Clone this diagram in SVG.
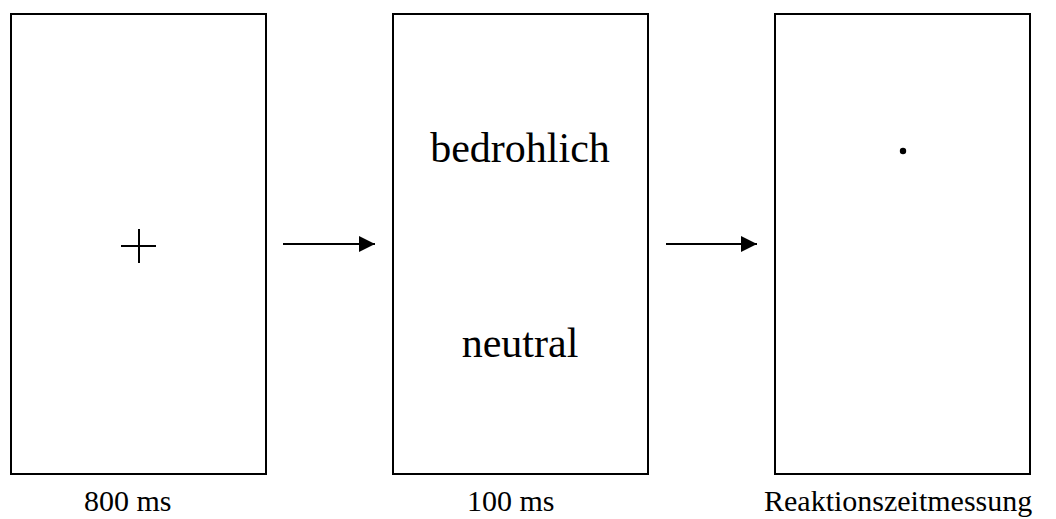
<svg xmlns="http://www.w3.org/2000/svg" width="1056" height="519" viewBox="0 0 1056 519">
<style>
.box{fill:#fff;stroke:#000;stroke-width:2}
.t{font-family:"Liberation Serif","Times New Roman",serif;fill:#000}
.big{font-size:42px}
.lab{font-size:30px}
.ln{stroke:#000;stroke-width:2;fill:none}
</style>
<defs>
<marker id="ah" viewBox="0 0 16 16" refX="16" refY="8" markerWidth="16" markerHeight="16" markerUnits="userSpaceOnUse" orient="auto">
<path d="M0,0 L16,8 L0,16 Z" fill="#000"/>
</marker>
</defs>
<rect width="1056" height="519" fill="#fff"/>
<g id="node-fixation">
<rect class="box" x="11" y="14" width="255" height="460"/>
<path class="ln" d="M121,246 H156 M139,229 V263"/>
</g>
<g id="node-prime">
<rect class="box" x="393" y="14" width="255" height="460"/>
<text class="t big" x="520" y="162" text-anchor="middle">bedrohlich</text>
<text class="t big" x="520" y="357" text-anchor="middle">neutral</text>
</g>
<g id="node-probe">
<rect class="box" x="775" y="14" width="255" height="460"/>
<circle cx="903" cy="151" r="3.2" fill="#000"/>
</g>
<g id="connectors">
<line class="ln" x1="283" y1="244" x2="375" y2="244" marker-end="url(#ah)"/>
<line class="ln" x1="666" y1="244" x2="757" y2="244" marker-end="url(#ah)"/>
</g>
<g id="labels">
<text class="t lab" x="84" y="511">800 ms</text>
<text class="t lab" x="467" y="511">100 ms</text>
<text class="t lab" x="764" y="511">Reaktionszeitmessung</text>
</g>
</svg>
